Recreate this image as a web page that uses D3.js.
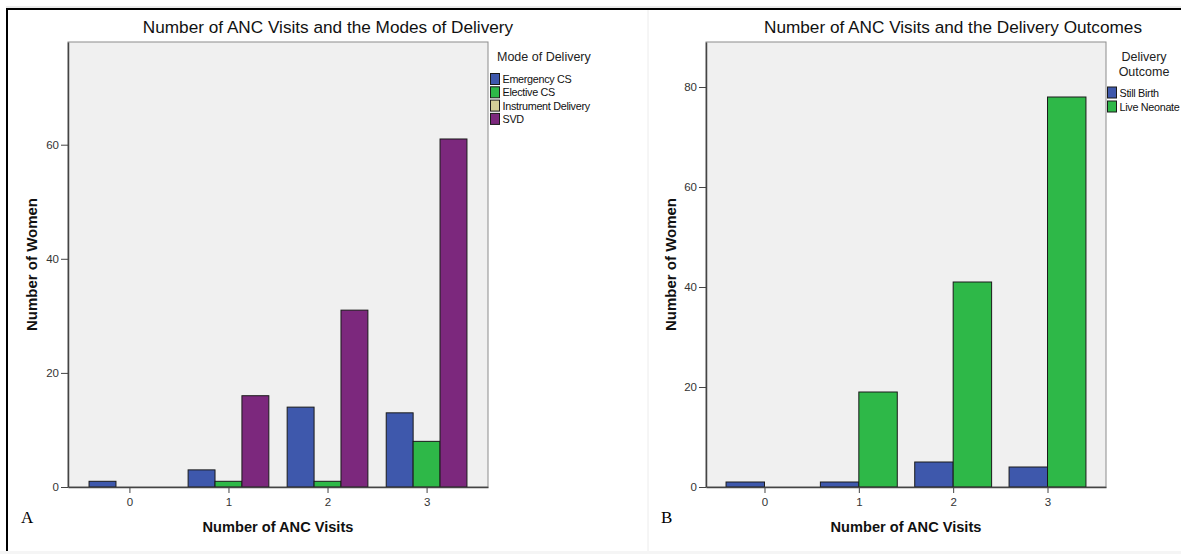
<!DOCTYPE html>
<html>
<head>
<meta charset="utf-8">
<script src="https://cdn.jsdelivr.net/npm/d3@7"></script>
<style>
    body { margin: 0; background: white; }
    svg { display: block; font-family: Arial, "Liberation Sans", sans-serif; }
</style>
</head>
<body>
<div id="viz"></div>
<script>
var ANC_VISITS = ["0", "1", "2", "3"];

var MODE_SERIES = ["Emergency CS", "Elective CS", "Instrument Delivery", "SVD"];
var EMERGENCY_CS = [1, 3, 14, 13];
var ELECTIVE_CS = [0, 1, 1, 8];
var INSTRUMENT_DELIVERY = [0, 0, 0, 0];
var SVD = [0, 16, 31, 61];
var MODE_TICKS = [0, 20, 40, 60];

var OUTCOME_SERIES = ["Still Birth", "Live Neonate"];
var STILL_BIRTH = [1, 1, 5, 4];
var LIVE_NEONATE = [0, 19, 41, 78];
var OUTCOME_TICKS = [0, 20, 40, 60, 80];

var SERIES_COLORS = ["#3E58AC", "#2EB848", "#D3CE97", "#7C287D"];

var WIDTH = 1181;
var HEIGHT = 554;

// layout of the two SPSS panels
var PANELS = [
    {
        title: "Number of ANC Visits and the Modes of Delivery",
        titleX: 328,
        letter: "A", letterX: 21,
        plot: {left: 68, right: 488, top: 42, bottom: 487},
        yMax: 78,
        yTicks: MODE_TICKS,
        yLabelX: 37,
        series: MODE_SERIES,
        values: [EMERGENCY_CS, ELECTIVE_CS, INSTRUMENT_DELIVERY, SVD],
        legendTitle: ["Mode of Delivery"],
        legendTitleX: 497, legendAnchor: "start",
        legendX: 490.5, legendY: 73.5, legendStep: 13.3
    },
    {
        title: "Number of ANC Visits and the Delivery Outcomes",
        titleX: 953,
        letter: "B", letterX: 661,
        plot: {left: 706, right: 1106, top: 42, bottom: 487},
        yMax: 89,
        yTicks: OUTCOME_TICKS,
        yLabelX: 675.5,
        series: OUTCOME_SERIES,
        values: [STILL_BIRTH, LIVE_NEONATE],
        legendTitle: ["Delivery", "Outcome"],
        legendTitleX: 1144, legendAnchor: "middle",
        legendX: 1107.5, legendY: 87, legendStep: 14
    }
];

const renderPanel = (svg, panel) => {
    let p = panel.plot;
    let g = svg.append("g");

    // Title
    g.append("text")
        .attr("x", panel.titleX)
        .attr("y", 33)
        .attr("text-anchor", "middle")
        .attr("font-size", "17.2px")
        .attr("fill", "#111")
        .text(panel.title);

    let xScale = d3.scalePoint()
        .domain(ANC_VISITS)
        .range([p.left, p.right])
        .padding(0.62);
    let yScale = d3.scaleLinear()
        .domain([0, panel.yMax])
        .range([p.bottom, p.top]);

    // Plot background
    g.append("rect")
        .attr("x", p.left)
        .attr("y", p.top)
        .attr("width", p.right - p.left)
        .attr("height", p.bottom - p.top)
        .attr("fill", "#f0f0f0")
        .attr("stroke", "#8c8c8c")
        .attr("stroke-width", 1);

    // only series with counts get a slot in the cluster
    let active = panel.series.filter((s, i) => d3.max(panel.values[i]) > 0);
    let groupWidth = xScale.step() * 0.815;
    let inner = d3.scaleBand()
        .domain(active)
        .range([-groupWidth / 2, groupWidth / 2]);

    // Draw bars
    panel.series.forEach((name, si) => {
        if(active.indexOf(name) < 0) return;
        let rows = ANC_VISITS.map((v, i) => ({visit: v, value: panel.values[si][i]}))
            .filter((d) => d.value > 0);
        g.selectAll(null)
            .data(rows)
            .enter()
            .append("rect")
                .attr("x", (d) => xScale(d.visit) + inner(name))
                .attr("y", (d) => yScale(d.value))
                .attr("width", inner.bandwidth())
                .attr("height", (d) => yScale(0) - yScale(d.value))
                .attr("fill", SERIES_COLORS[si])
                .attr("stroke", "#1a1a1a")
                .attr("stroke-width", 1);
    });

    // Render y-axis
    let yAxis = g.append("g")
        .attr("transform", "translate(" + p.left + ",0)")
        .call(d3.axisLeft(yScale)
            .tickValues(panel.yTicks)
            .tickSize(7)
            .tickSizeOuter(0)
            .tickPadding(2)
        );
    yAxis.select(".domain").attr("stroke", "#444").attr("stroke-width", 1.5);
    yAxis.selectAll(".tick line").attr("stroke", "#444");
    yAxis.selectAll(".tick text")
        .attr("font-size", "11.5px")
        .attr("font-family", "Arial, 'Liberation Sans', sans-serif")
        .attr("fill", "#333");

    // Render x-axis
    let xAxis = g.append("g")
        .attr("transform", "translate(0," + p.bottom + ")")
        .call(d3.axisBottom(xScale)
            .tickSize(6)
            .tickSizeOuter(0)
            .tickPadding(5)
        );
    xAxis.select(".domain").attr("stroke", "#444").attr("stroke-width", 1.5);
    xAxis.selectAll(".tick line").attr("stroke", "#444");
    xAxis.selectAll(".tick text")
        .attr("font-size", "11.5px")
        .attr("font-family", "Arial, 'Liberation Sans', sans-serif")
        .attr("fill", "#333");

    // Axis titles
    g.append("text")
        .attr("x", (p.left + p.right) / 2)
        .attr("y", 532)
        .attr("text-anchor", "middle")
        .attr("font-size", "14.6px")
        .attr("font-weight", "bold")
        .attr("fill", "#111")
        .text("Number of ANC Visits");
    g.append("text")
        .attr("transform", "translate(" + panel.yLabelX + "," + ((p.top + p.bottom) / 2) + ") rotate(-90)")
        .attr("text-anchor", "middle")
        .attr("font-size", "15px")
        .attr("font-weight", "bold")
        .attr("fill", "#111")
        .text("Number of Women");

    // Panel letter
    g.append("text")
        .attr("x", panel.letterX)
        .attr("y", 523)
        .attr("font-family", "'Liberation Serif', 'Times New Roman', serif")
        .attr("font-size", "17px")
        .attr("fill", "#000")
        .text(panel.letter);

    // Legend
    panel.legendTitle.forEach((line, i) => {
        g.append("text")
            .attr("x", panel.legendTitleX)
            .attr("y", 60.5 + i * 15)
            .attr("text-anchor", panel.legendAnchor)
            .attr("font-size", "12.5px")
            .attr("fill", "#222")
            .text(line);
    });
    panel.series.forEach((name, i) => {
        let y = panel.legendY + i * panel.legendStep;
        g.append("rect")
            .attr("x", panel.legendX)
            .attr("y", y)
            .attr("width", 9)
            .attr("height", 11)
            .attr("fill", SERIES_COLORS[i])
            .attr("stroke", "#1a1a1a")
            .attr("stroke-width", 1);
        g.append("text")
            .attr("x", panel.legendX + 12)
            .attr("y", y + 9.5)
            .attr("font-size", "10.8px")
            .attr("letter-spacing", "-0.3px")
            .attr("fill", "#111")
            .text(name);
    });
}

const renderFigure = () => {
    let svg = d3.select("#viz")
        .append("svg")
            .attr("width", WIDTH)
            .attr("height", HEIGHT)
            .style("background-color", "white");

    // Frame of the figure
    svg.append("rect")
        .attr("x", 0)
        .attr("y", 551)
        .attr("width", WIDTH)
        .attr("height", HEIGHT - 551)
        .attr("fill", "#f5f5f5");
    svg.append("line")
        .attr("x1", 648).attr("x2", 648)
        .attr("y1", 10).attr("y2", 551)
        .attr("stroke", "#ececec")
        .attr("stroke-width", 1);
    svg.append("line")
        .attr("x1", 6).attr("x2", WIDTH)
        .attr("y1", 7).attr("y2", 7)
        .attr("stroke", "#d8d8d8")
        .attr("stroke-width", 1);
    svg.append("line")
        .attr("x1", 6).attr("x2", WIDTH)
        .attr("y1", 9).attr("y2", 9)
        .attr("stroke", "#000")
        .attr("stroke-width", 2);
    svg.append("line")
        .attr("x1", 7).attr("x2", 7)
        .attr("y1", 8).attr("y2", 551)
        .attr("stroke", "#000")
        .attr("stroke-width", 2);

    PANELS.forEach((panel) => {
        renderPanel(svg, panel);
    });
}

renderFigure();
</script>
</body>
</html>
